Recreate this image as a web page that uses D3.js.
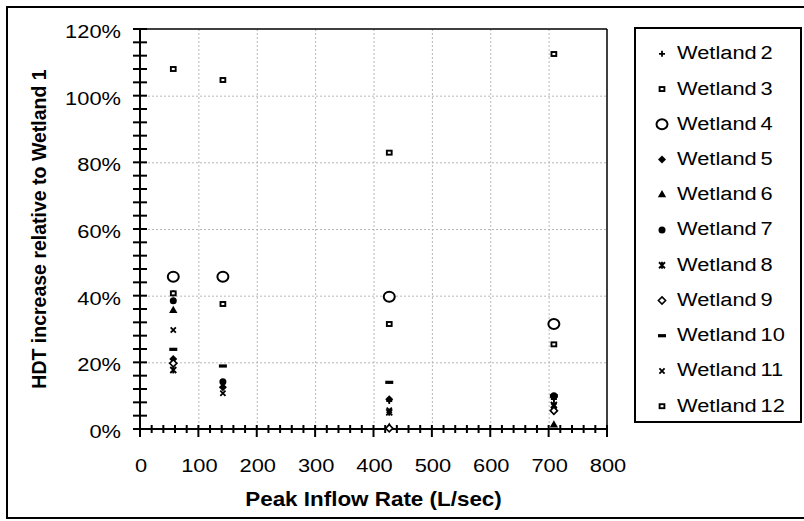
<!DOCTYPE html>
<html lang="en">
<head>
<meta charset="UTF-8">
<title>HDT increase relative to Wetland 1</title>
<style>
  body { margin: 0; background: #fff; }
  svg { display: block; font-family: "Liberation Sans", Arial, sans-serif; }
  svg .frame { fill: none; stroke: #000; stroke-width: 2px; }
  svg .plot-edge { stroke: #000; stroke-width: 1.5px; }
  svg .axis-line { stroke: #000; stroke-width: 2px; }
  svg .tick { stroke: #000; stroke-width: 2px; }
  svg .grid { stroke: #b8b8b8; stroke-width: 1px; stroke-dasharray: 2,2; }
  svg text { fill: #000; font-size: 19px; }
  svg .xlabel { transform-box: fill-box; transform: scaleX(1.15); transform-origin: center; }
  svg .ylabel { transform-box: fill-box; transform: scaleX(1.15); transform-origin: right; }
  svg .leglabel { transform-box: fill-box; transform: scaleX(1.15); transform-origin: left; word-spacing: -2px; }
  svg .title { font-weight: bold; font-size: 19.5px; }
  svg .m-fill { fill: #000; stroke: none; }
  svg .m-open { fill: #fff; stroke: #000; stroke-width: 1.6px; }
  svg .m-thick { stroke-width: 2px; }
  svg .m-sq { fill: #fff; stroke: #000; stroke-width: 1.9px; }
  svg .m-line { fill: none; stroke: #000; stroke-width: 1.8px; }
</style>
</head>
<body>
<div id="chart"></div>
<script src="https://cdnjs.cloudflare.com/ajax/libs/d3/7.8.5/d3.min.js"></script>
<script>
  // peak inflow rates (L/sec) and HDT increase per wetland
  // null = no visible point at that flow rate
  var flowRates = [57, 142, 427, 709];
  var wetland2 = [0.407, 0.125, 0.084, 0.09];
  var wetland3 = [1.08, 1.047, 0.829, 1.125];
  var wetland4 = [0.457, 0.457, 0.397, 0.315];
  var wetland5 = [0.21, 0.125, 0.089, 0.095];
  var wetland6 = [0.355, null, 0.005, 0.012];
  var wetland7 = [0.385, 0.142, null, 0.10];
  var wetland8 = [0.177, null, 0.05, 0.072];
  var wetland9 = [0.197, null, 0.002, 0.055];
  var wetland10 = [0.239, 0.189, 0.14, 0.10];
  var wetland11 = [0.297, 0.107, 0.056, 0.069];
  var wetland12 = [0.407, 0.375, 0.315, 0.254];

  var seriesNames = ['Wetland 2', 'Wetland 3', 'Wetland 4', 'Wetland 5', 'Wetland 6', 'Wetland 7',
    'Wetland 8', 'Wetland 9', 'Wetland 10', 'Wetland 11', 'Wetland 12'];
  var markerTypes = ['plus', 'square', 'circle', 'diamond', 'triangle', 'dot',
    'asterisk', 'diamondOpen', 'dash', 'cross', 'square'];
  var seriesValues = [wetland2, wetland3, wetland4, wetland5, wetland6, wetland7,
    wetland8, wetland9, wetland10, wetland11, wetland12];

  var xTickValues = [0, 100, 200, 300, 400, 500, 600, 700, 800];
  var yTickValues = [0, 0.2, 0.4, 0.6, 0.8, 1.0, 1.2];

  var width = 804,
    height = 521,
    plot = {left: 140, right: 607, top: 29, bottom: 429};

  var x = d3.scaleLinear().domain([0, 800]).range([plot.left, plot.right]);
  var y = d3.scaleLinear().domain([0, 1.2]).range([plot.bottom, plot.top]);

  var svg = d3.select('#chart').append('svg')
    .attr('width', width)
    .attr('height', height);

  svg.append('rect')
    .attr('class', 'frame')
    .attr('x', 7).attr('y', 7)
    .attr('width', 806).attr('height', 511);

  // gridlines
  var grid = svg.append('g');
  grid.selectAll('.gx').data(xTickValues.slice(1, -1)).enter().append('line')
    .attr('class', 'grid')
    .attr('x1', function(d) { return x(d) + 0.5; })
    .attr('x2', function(d) { return x(d) + 0.5; })
    .attr('y1', plot.top).attr('y2', plot.bottom);
  grid.selectAll('.gy').data(yTickValues.slice(1, -1)).enter().append('line')
    .attr('class', 'grid')
    .attr('x1', plot.left).attr('x2', plot.right)
    .attr('y1', function(d) { return y(d) + 0.5; })
    .attr('y2', function(d) { return y(d) + 0.5; });

  // plot frame top and right
  svg.append('line').attr('class', 'plot-edge')
    .attr('x1', plot.left).attr('x2', plot.right).attr('y1', plot.top).attr('y2', plot.top);
  svg.append('line').attr('class', 'plot-edge')
    .attr('x1', plot.right).attr('x2', plot.right).attr('y1', plot.top).attr('y2', plot.bottom);

  // axes with crossing ticks
  var axes = svg.append('g');
  axes.selectAll('.ytick').data(d3.range(0, 31).map(function(i) { return i * 0.04; })).enter().append('line')
    .attr('class', 'tick')
    .attr('x1', plot.left - 7).attr('x2', plot.left + 7)
    .attr('y1', function(d) { return y(d); })
    .attr('y2', function(d) { return y(d); });
  axes.selectAll('.xtick').data(d3.range(0, 41).map(function(i) { return i * 20; })).enter().append('line')
    .attr('class', 'tick')
    .attr('x1', function(d) { return x(d); })
    .attr('x2', function(d) { return x(d); })
    .attr('y1', plot.bottom - 4)
    .attr('y2', function(d) { return plot.bottom + (d % 100 === 0 ? 8 : 4); });
  axes.append('line').attr('class', 'axis-line')
    .attr('x1', plot.left).attr('x2', plot.left).attr('y1', plot.top).attr('y2', plot.bottom + 1);
  axes.append('line').attr('class', 'axis-line')
    .attr('x1', plot.left - 1).attr('x2', plot.right).attr('y1', plot.bottom).attr('y2', plot.bottom);

  axes.selectAll('.ylabel').data(yTickValues).enter().append('text')
    .attr('class', 'ylabel')
    .attr('x', 121)
    .attr('y', function(d) { return y(d) + 9; })
    .attr('text-anchor', 'end')
    .text(d3.format('.0%'));
  axes.selectAll('.xlabel').data(xTickValues).enter().append('text')
    .attr('class', 'xlabel')
    .attr('x', function(d) { return x(d) + 1; })
    .attr('y', plot.bottom + 43)
    .attr('text-anchor', 'middle')
    .text(function(d) { return d; });

  svg.append('text')
    .attr('class', 'title xlabel')
    .attr('x', (plot.left + plot.right) / 2)
    .attr('y', 506)
    .attr('text-anchor', 'middle')
    .text('Peak Inflow Rate (L/sec)');
  svg.append('text')
    .attr('class', 'title')
    .attr('transform', 'translate(46,' + ((plot.top + plot.bottom) / 2) + ') rotate(-90)')
    .attr('text-anchor', 'middle')
    .text('HDT increase relative to Wetland 1');

  var drawMarker = function(g, type) {
    switch (type) {
      case 'plus':
        g.append('path').attr('class', 'm-line').attr('d', 'M-3,0H3M0,-3V3');
        break;
      case 'square':
        g.append('rect').attr('class', 'm-sq').attr('x', -2.4).attr('y', -2).attr('width', 4.8).attr('height', 4);
        break;
      case 'circle':
        g.append('ellipse').attr('class', 'm-open m-thick').attr('rx', 5.5).attr('ry', 5);
        break;
      case 'diamond':
        g.append('path').attr('class', 'm-fill').attr('d', 'M0,-4L4,0L0,4L-4,0Z');
        break;
      case 'triangle':
        g.append('path').attr('class', 'm-fill').attr('d', d3.symbol(d3.symbolTriangle, 30)());
        break;
      case 'dot':
        g.append('circle').attr('class', 'm-fill').attr('r', 3.5);
        break;
      case 'asterisk':
        g.append('path').attr('class', 'm-line').attr('d', 'M-3,-3L3,3M-3,3L3,-3M0,-3.5V3.5');
        break;
      case 'diamondOpen':
        g.append('path').attr('class', 'm-open').attr('d', 'M0,-3.6L3.6,0L0,3.6L-3.6,0Z');
        break;
      case 'dash':
        g.append('rect').attr('class', 'm-fill').attr('x', -4).attr('y', -1.6).attr('width', 8).attr('height', 3.2);
        break;
      case 'cross':
        g.append('path').attr('class', 'm-line').attr('d', 'M-2.6,-2.6L2.6,2.6M-2.6,2.6L2.6,-2.6');
        break;
    }
  };

  // data points
  var points = svg.append('g');
  seriesValues.forEach(function(values, s) {
    values.forEach(function(v, i) {
      if (v === null) return;
      var g = points.append('g')
        .attr('transform', 'translate(' + x(flowRates[i]) + ',' + y(v) + ')');
      drawMarker(g, markerTypes[s]);
    });
  });

  // legend
  var legend = svg.append('g');
  legend.append('rect')
    .attr('class', 'frame')
    .attr('x', 635).attr('y', 28)
    .attr('width', 166).attr('height', 394);
  var rowY = d3.scalePoint().domain(seriesNames).range([59.3, 411.7]);
  seriesNames.forEach(function(name, s) {
    var g = legend.append('g')
      .attr('transform', 'translate(662,' + (rowY(name) - 5.5) + ')');
    drawMarker(g, markerTypes[s]);
    legend.append('text')
      .attr('class', 'leglabel')
      .attr('x', 677)
      .attr('y', rowY(name))
      .text(name);
  });
</script>
</body>
</html>
